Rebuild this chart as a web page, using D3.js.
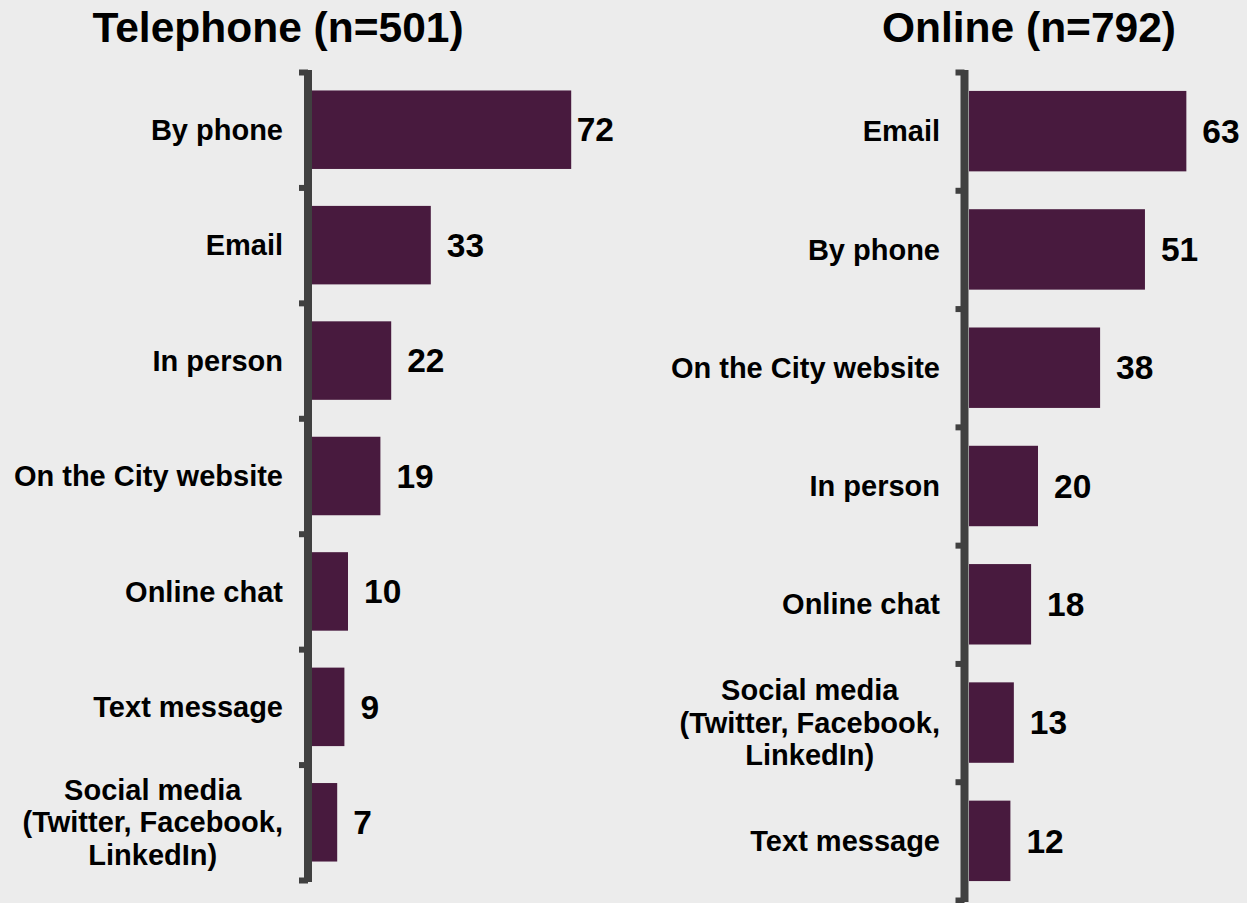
<!DOCTYPE html>
<html>
<head>
<meta charset="utf-8">
<script src="https://cdn.jsdelivr.net/npm/d3@7/dist/d3.min.js"></script>
<style>
  html, body { margin: 0; padding: 0; background: #ececec; }
  svg { display: block; font-family: "Liberation Sans", Arial, sans-serif; font-weight: bold; }
</style>
</head>
<body>
<svg id="chart" width="1247" height="903"></svg>
<script>
// Preferred contact channels, percent of respondents, by survey mode
const telephoneTitle = "Telephone (n=501)";
const telephoneCategories = ["By phone", "Email", "In person", "On the City website", "Online chat", "Text message", "Social media\n(Twitter, Facebook,\nLinkedIn)"];
const telephoneValues = [72, 33, 22, 19, 10, 9, 7];

const onlineTitle = "Online (n=792)";
const onlineCategories = ["Email", "By phone", "On the City website", "In person", "Online chat", "Social media\n(Twitter, Facebook,\nLinkedIn)", "Text message"];
const onlineValues = [63, 51, 38, 20, 18, 13, 12];

const barColor = "#481a3e";
const axisColor = "#404040";

const svg = d3.select("#chart");

function panel(cfg) {
  const { title, categories, values, titleX, axisX, barX, top, bottom, pxPerUnit, labelRight, valueMaxX } = cfg;
  const n = categories.length;
  const g = svg.append("g");

  const y = d3.scaleBand().domain(d3.range(n)).range([top, bottom]).paddingInner(0.32).paddingOuter(0.16);
  const yEdge = d3.scaleLinear().domain([0, n]).range([top, bottom]);
  const maxV = d3.max(values);
  const x = d3.scaleLinear().domain([0, maxV]).range([barX, barX + maxV * pxPerUnit]);

  // title
  g.append("text")
    .attr("x", titleX).attr("y", 42)
    .attr("text-anchor", "middle")
    .attr("font-size", 42.5)
    .attr("fill", "#000")
    .text(title);

  // bars
  g.selectAll("rect.bar").data(values).join("rect")
    .attr("class", "bar")
    .attr("x", x(0))
    .attr("y", (d, i) => y(i))
    .attr("width", d => x(d) - x(0))
    .attr("height", y.bandwidth())
    .attr("fill", barColor);

  // axis with ticks at the category boundaries
  const axis = d3.axisLeft(yEdge)
    .tickValues(d3.range(n + 1))
    .tickSize(9)
    .tickSizeOuter(0)
    .tickFormat("");
  const ag = g.append("g").attr("transform", `translate(${axisX},0)`).call(axis);
  ag.select(".domain").attr("stroke", axisColor).attr("stroke-width", 8)
    .attr("d", `M0,${top - 2}V${bottom + 2}`);
  ag.selectAll(".tick line").attr("stroke", axisColor).attr("stroke-width", 6);

  // category labels (multi-line entries centred on each other, right-aligned as a block)
  const lineH = 32.5;
  categories.forEach((c, i) => {
    const lines = c.split("\n");
    const cy = y(i) + y.bandwidth() / 2;
    const t = g.append("text")
      .attr("font-size", 29)
      .attr("fill", "#000");
    lines.forEach((ln, k) => {
      t.append("tspan")
        .attr("y", cy + (k - (lines.length - 1) / 2) * lineH)
        .attr("dy", "0.35em")
        .text(ln);
    });
    const spans = t.selectAll("tspan").nodes();
    const w = d3.max(spans, s => s.getComputedTextLength());
    t.attr("text-anchor", "middle");
    t.selectAll("tspan").attr("x", labelRight - w / 2);
  });

  // value labels
  g.selectAll("text.val").data(values).join("text")
    .attr("class", "val")
    .attr("font-size", 33.5)
    .attr("fill", "#000")
    .attr("y", (d, i) => y(i) + y.bandwidth() / 2)
    .attr("dy", "0.35em")
    .text(d => d)
    .attr("x", function (d) {
      const w = this.getComputedTextLength();
      return Math.min(x(d) + 16, valueMaxX - w);
    });
}

panel({
  title: telephoneTitle, categories: telephoneCategories, values: telephoneValues,
  titleX: 278, axisX: 308, barX: 312, top: 72, bottom: 880,
  pxPerUnit: 3.6, labelRight: 283, valueMaxX: 614
});

panel({
  title: onlineTitle, categories: onlineCategories, values: onlineValues,
  titleX: 1029, axisX: 964.5, barX: 969, top: 72, bottom: 900,
  pxPerUnit: 3.45, labelRight: 940, valueMaxX: 1247
});
</script>
</body>
</html>
